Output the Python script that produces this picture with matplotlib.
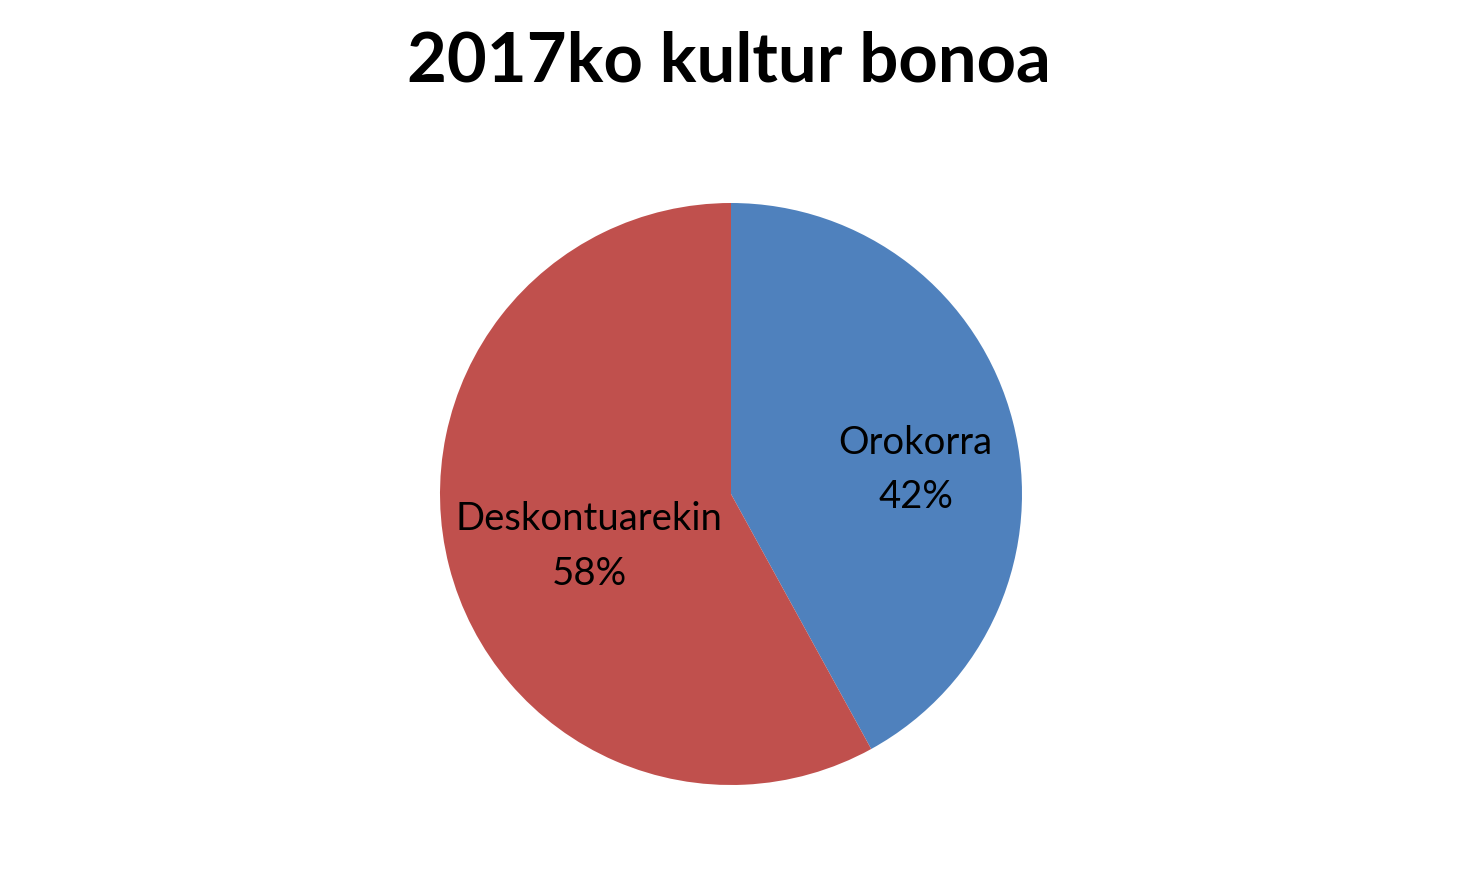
import matplotlib
matplotlib.use("Agg")
import numpy as np
import matplotlib.pyplot as plt

# data
categories = ["Orokorra", "Deskontuarekin"]
shares = [42, 58]
colors = ["#4F81BD", "#C0504D"]
title = "2017ko kultur bonoa"

plt.rcParams["font.family"] = ["Lato", "DejaVu Sans"]

fig = plt.figure(figsize=(14.57, 8.77), dpi=100)
fig.patch.set_facecolor("white")

# axes placed so the pie sits where it does in the reference
ax = fig.add_axes([440 / 1457, 92 / 877, 582 / 1457, 582 / 877])

def make_label(pct):
    idx = 0 if abs(pct - shares[0]) < 0.5 else 1
    return "%s\n%d%%" % (categories[idx], round(pct))

wedges, texts, autotexts = ax.pie(
    shares, colors=colors, startangle=90, counterclock=False,
    autopct=make_label, pctdistance=0.6, radius=1.0,
    wedgeprops=dict(linewidth=0), textprops=dict(fontsize=27.5, color="black",
                                                 linespacing=1.65))

# excel-like label spots: nudge the label along each wedge's mid angle
label_dist = [0.64, 0.52]
angle_shift = [-7, 6]
for w, t, d, s in zip(wedges, autotexts, label_dist, angle_shift):
    mid = np.deg2rad((w.theta1 + w.theta2) / 2 + s)
    t.set_position((d * np.cos(mid), d * np.sin(mid)))

ax.set_xlim(-1, 1)
ax.set_ylim(-1, 1)
ax.set_aspect("equal")
ax.axis("off")

fig.text(0.5, 1 - 62 / 877, title, ha="center", va="center",
         fontsize=49.5, fontweight="bold")

fig.savefig("out.png", dpi=100, facecolor="white")
